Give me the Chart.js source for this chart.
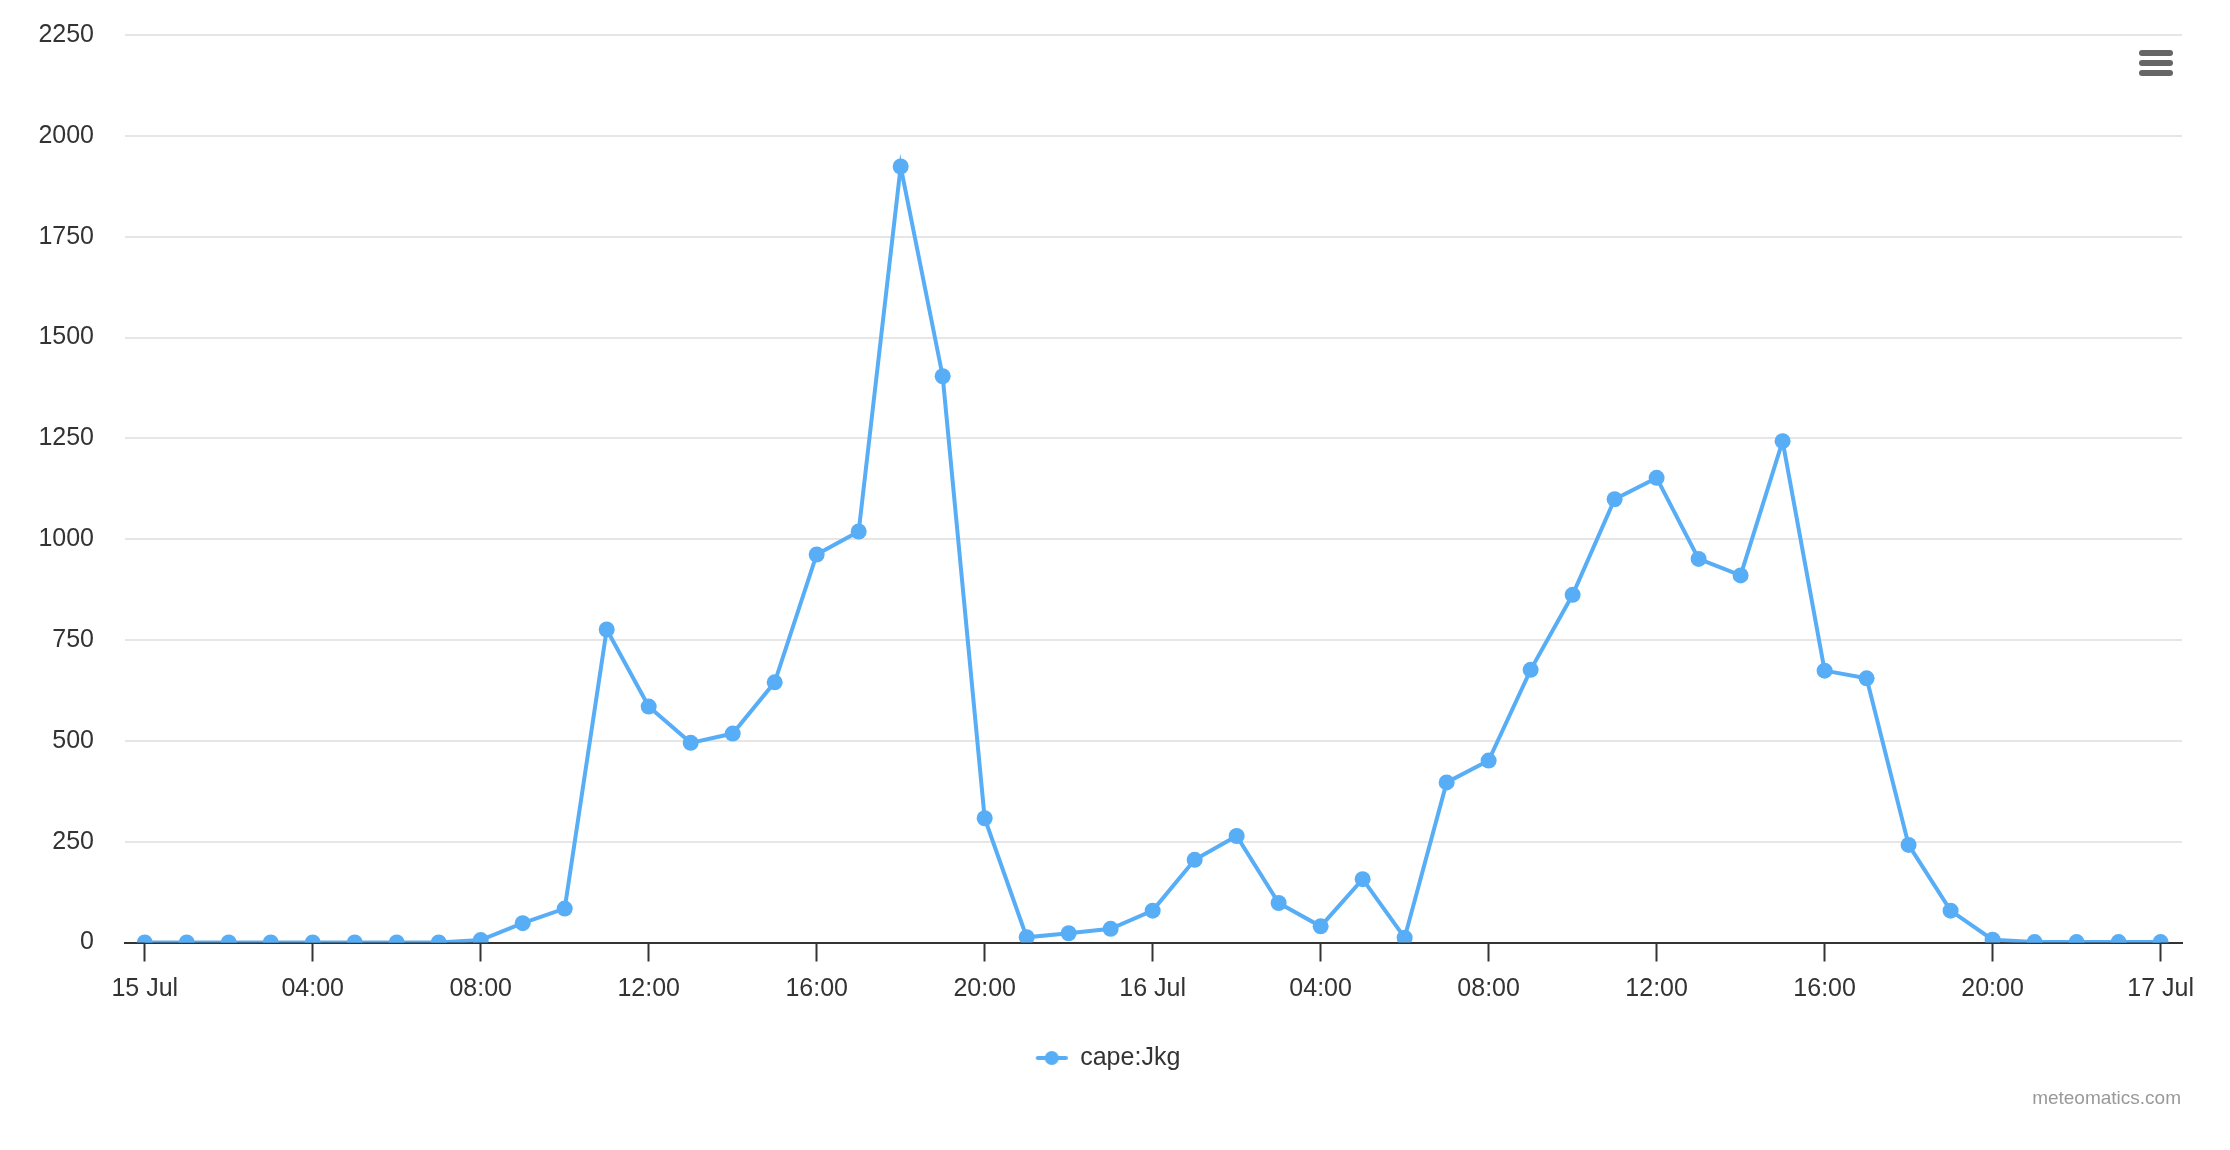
<!DOCTYPE html>
<html>
<head>
<meta charset="utf-8">
<title>cape:Jkg</title>
<script src="https://cdn.jsdelivr.net/npm/chart.js@4.4.3/dist/chart.umd.min.js"></script>
<style>
    html, body { margin: 0; padding: 0; background: #ffffff; }
    #wrap { width: 2230px; height: 1150px; position: relative; }
</style>
</head>
<body>
<div id="wrap"><canvas id="capeChart" width="2230" height="1150"></canvas></div>
<script>
// -----------------------------
// CAPE chart data (hourly, 15 Jul 00:00 -> 17 Jul 00:00)
// -----------------------------

const seriesName = "cape:Jkg";

// hourly values, index = hours since 15 Jul 00:00
const capeValues = [
    0, 0, 0, 0, 0, 0, 0, 0, 6, 48, 84,
    776, 585, 495, 518, 645, 962, 1019, 1924, 1404, 308,
    13, 23, 34, 79, 205, 264, 98, 40, 157, 12,
    397, 451, 676, 862, 1099, 1152, 951, 910, 1243, 674,
    655, 242, 79, 7, 1, 1, 1, 1
];

const tickHours = [0, 4, 8, 12, 16, 20, 24, 28, 32, 36, 40, 44, 48];
const tickLabels = [
    "15 Jul", "04:00", "08:00", "12:00", "16:00", "20:00",
    "16 Jul", "04:00", "08:00", "12:00", "16:00", "20:00", "17 Jul"
];

const yMin = 0;
const yMax = 2250;
const yStep = 250;

const creditText = "meteomatics.com";

const FONT = "'Liberation Sans', Arial, Helvetica, sans-serif";
const LINE_COLOR = "#58aef6";

// legend symbol: short line with a dot in the middle
// (extra blank space on the left pushes the centred legend a bit to the right)
function makeLegendSymbol() {
    const c = document.createElement("canvas");
    c.width = 66;
    c.height = 16;
    const g = c.getContext("2d");
    g.strokeStyle = LINE_COLOR;
    g.lineWidth = 4;
    g.lineCap = "round";
    g.beginPath();
    g.moveTo(36, 8);
    g.lineTo(64, 8);
    g.stroke();
    g.fillStyle = LINE_COLOR;
    g.beginPath();
    g.arc(50, 8, 7, 0, Math.PI * 2);
    g.fill();
    return c;
}

// credits text + export menu icon
const decorPlugin = {
    id: "decor",
    afterDraw(chart) {
        const ctx = chart.ctx;
        ctx.save();
        ctx.fillStyle = "#999999";
        ctx.font = "19px " + FONT;
        ctx.textAlign = "right";
        ctx.textBaseline = "middle";
        ctx.fillText(creditText, 2181, 1099);

        ctx.strokeStyle = "#666666";
        ctx.lineWidth = 6;
        ctx.lineCap = "round";
        [53, 63, 73].forEach(y => {
            ctx.beginPath();
            ctx.moveTo(2142, y);
            ctx.lineTo(2170, y);
            ctx.stroke();
        });
        ctx.restore();
    }
};

const points = capeValues.map((v, i) => ({ x: i, y: v }));

new Chart(document.getElementById("capeChart"), {
    type: "line",
    data: {
        datasets: [{
            label: seriesName,
            data: points,
            borderColor: LINE_COLOR,
            backgroundColor: LINE_COLOR,
            borderWidth: 4,
            tension: 0,
            pointRadius: 8,
            pointHoverRadius: 8,
            pointBorderWidth: 0,
            pointBackgroundColor: LINE_COLOR,
            fill: false
        }]
    },
    plugins: [decorPlugin],
    options: {
        responsive: false,
        animation: false,
        devicePixelRatio: 1,
        layout: {
            padding: { left: 0, right: 48, top: 35, bottom: 69.5 }
        },
        plugins: {
            tooltip: { enabled: false },
            legend: {
                position: "bottom",
                labels: {
                    usePointStyle: true,
                    pointStyleWidth: 66,
                    padding: 10,
                    color: "#333333",
                    font: { family: FONT, size: 25 },
                    generateLabels: () => [{
                        text: seriesName,
                        fontColor: "#333333",
                        pointStyle: makeLegendSymbol(),
                        fillStyle: LINE_COLOR,
                        strokeStyle: LINE_COLOR,
                        lineWidth: 0,
                        hidden: false,
                        datasetIndex: 0
                    }]
                }
            }
        },
        scales: {
            x: {
                type: "linear",
                min: -0.47,
                max: 48.51,
                afterBuildTicks: scale => {
                    scale.ticks = tickHours.map(h => ({ value: h }));
                },
                afterFit: scale => { scale.height = 93; },
                border: { display: true, color: "#333333", width: 2 },
                grid: {
                    display: true,
                    drawOnChartArea: false,
                    drawTicks: true,
                    tickLength: 19,
                    tickColor: "#333333",
                    tickWidth: 2
                },
                ticks: {
                    autoSkip: false,
                    maxRotation: 0,
                    padding: 13,
                    color: "#333333",
                    font: { family: FONT, size: 25 },
                    callback: value => {
                        const idx = tickHours.indexOf(value);
                        return idx >= 0 ? tickLabels[idx] : "";
                    }
                }
            },
            y: {
                min: yMin,
                max: yMax,
                afterFit: scale => {
                    scale.width = 125;
                    scale.paddingTop = 0;
                    scale.paddingBottom = 0;
                },
                border: { display: false },
                grid: {
                    color: "#e6e6e6",
                    lineWidth: 2,
                    drawTicks: false
                },
                ticks: {
                    stepSize: yStep,
                    padding: 31,
                    color: "#333333",
                    font: { family: FONT, size: 25 },
                    callback: value => String(value)
                }
            }
        }
    }
});
</script>
</body>
</html>
